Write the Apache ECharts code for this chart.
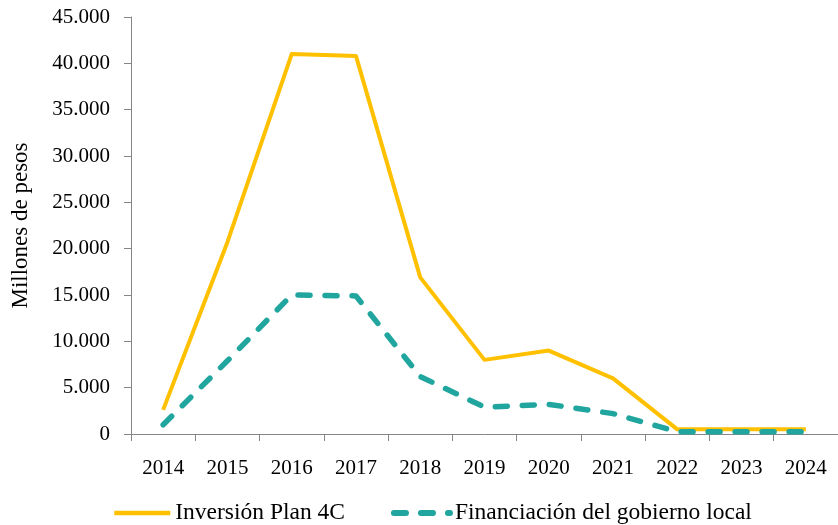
<!DOCTYPE html>
<html>
<head>
<meta charset="utf-8">
<script src="https://cdn.jsdelivr.net/npm/echarts@6/dist/echarts.min.js"></script>
<style>
html, body { margin: 0; padding: 0; background: #fff; }
#chart { width: 838px; height: 525px; }
</style>
</head>
<body>
<div id="chart"></div>
<script>
// datos del gráfico
var years = ['2014', '2015', '2016', '2017', '2018', '2019', '2020', '2021', '2022', '2023', '2024'];
var inversionPlan4C = [2600, 20700, 41000, 40800, 16900, 8000, 9000, 6000, 500, 500, 500];
var financiacionLocal = [1000, 7900, 15000, 14900, 6200, 2900, 3200, 2200, 250, 250, 250];

var fontFam = 'Liberation Serif';
var axisColor = '#868686';
var colorPlan = '#FFC000';
var colorLocal = '#20A69E';
var dashLocal = [12, 15];

var obj = echarts.init(document.getElementById('chart'));
var option = {
	animation : false,
	textStyle : { fontFamily : fontFam, color : '#000' },
	grid : {
		left : 131,
		top : 17,
		right : 0,
		bottom : 91
	},
	legend : {
		data : [
			{ name : 'Inversión Plan 4C', lineStyle : { color : colorPlan, width : 4.5 } },
			{ name : 'Financiación del gobierno local', lineStyle : { color : colorLocal, width : 6, type : dashLocal, cap : 'round' } }
		],
		left : 107,
		top : 496,
		itemWidth : 56,
		itemHeight : 14,
		itemGap : 46,
		itemStyle : { opacity : 0 },
		textStyle : { fontFamily : fontFam, fontSize : 23.5, color : '#000' }
	},
	xAxis : {
		type : 'category',
		data : years,
		boundaryGap : true,
		axisLine : { lineStyle : { color : axisColor, width : 1 } },
		axisTick : { show : true, alignWithLabel : false, length : 7, lineStyle : { color : axisColor } },
		axisLabel : { fontFamily : fontFam, fontSize : 21, color : '#000', margin : 24, interval : 0 },
		splitLine : { show : false }
	},
	yAxis : {
		type : 'value',
		min : 0,
		max : 45000,
		interval : 5000,
		name : 'Millones de pesos',
		nameLocation : 'middle',
		nameGap : 99,
		nameTextStyle : { fontFamily : fontFam, fontSize : 23, color : '#000' },
		axisLine : { show : true, lineStyle : { color : axisColor, width : 1 } },
		axisTick : { show : true, length : 7, lineStyle : { color : axisColor } },
		axisLabel : {
			fontFamily : fontFam,
			fontSize : 21,
			color : '#000',
			margin : 21,
			formatter : function (v) {
				return v === 0 ? '0' : (v / 1000).toFixed(3);
			}
		},
		splitLine : { show : false }
	},
	series : [
		{
			name : 'Inversión Plan 4C',
			type : 'line',
			data : inversionPlan4C,
			symbol : 'none',
			itemStyle : { color : colorPlan },
			lineStyle : { color : colorPlan, width : 4, join : 'round' }
		}, {
			name : 'Financiación del gobierno local',
			type : 'line',
			data : financiacionLocal,
			symbol : 'none',
			itemStyle : { color : colorLocal },
			lineStyle : { color : colorLocal, width : 5.5, type : dashLocal, cap : 'round', join : 'round' }
		}
	]
};
obj.setOption(option);
</script>
</body>
</html>
